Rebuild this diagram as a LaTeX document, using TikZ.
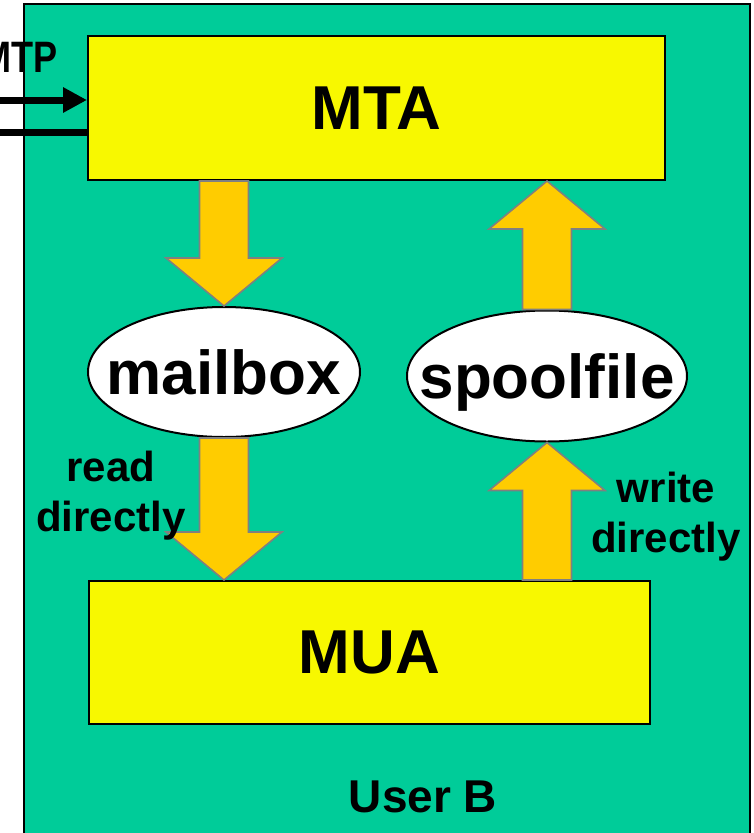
\documentclass[tikz,border=0pt]{standalone}
\usepackage{fontspec}
\setmainfont{Liberation Sans}
\usetikzlibrary{calc,shapes.geometric,arrows.meta}
\definecolor{bggreen}{RGB}{0,204,153}
\definecolor{boxyellow}{RGB}{248,248,0}
\definecolor{arrorange}{RGB}{255,204,0}
\definecolor{arrgray}{RGB}{128,128,128}
\newcommand{\fsz}[2]{\fontsize{#1}{#2}\selectfont\bfseries}
\def\shw{24.5pt}
\def\hhw{58pt}
\def\hhl{48pt}
\newcommand{\blkdown}[2]{%
  \draw[blockarrow] let \p1=(#1), \p2=(#2) in
    (\x1-\shw,\y1) -- (\x1-\shw,\y2+\hhl) -- (\x1-\hhw,\y2+\hhl) -- (\x1,\y2)
    -- (\x1+\hhw,\y2+\hhl) -- (\x1+\shw,\y2+\hhl) -- (\x1+\shw,\y1) -- cycle;}
\newcommand{\blkup}[2]{%
  \draw[blockarrow] let \p1=(#1), \p2=(#2) in
    (\x1-\shw,\y1) -- (\x1-\shw,\y2-\hhl) -- (\x1-\hhw,\y2-\hhl) -- (\x1,\y2)
    -- (\x1+\hhw,\y2-\hhl) -- (\x1+\shw,\y2-\hhl) -- (\x1+\shw,\y1) -- cycle;}
\tikzset{
  blockarrow/.style={fill=arrorange, draw=arrgray, line width=1.6pt, line join=miter},
  agentbox/.style={rectangle, draw=black, line width=2pt, fill=boxyellow, inner sep=0pt,
    font=\fsz{62}{62}},
  storeellipse/.style={ellipse, draw=black, line width=2pt, fill=white,
    inner xsep=-40pt, inner ysep=0pt,
    text height=45pt, text depth=0pt, font=\fsz{62}{62}},
  sidelabel/.style={align=center, inner sep=0pt, font=\fsz{42}{50}},
  smtpline/.style={line width=7pt},
}
\begin{document}
\begin{tikzpicture}[x=1pt,y=-1pt]
\useasboundingbox (0,0) rectangle (753,833);
\clip (0,0) rectangle (753,833);
% user area
\draw[fill=bggreen, draw=black, line width=2pt] (24,4) rectangle (750,860);
% boxes
\node[agentbox, minimum width=577pt, minimum height=144pt] (mta) at (376.5,108) {MTA};
\node[agentbox, minimum width=561pt, minimum height=143pt] (mua) at (369.5,652.5) {MUA};
\node[storeellipse, minimum width=272pt, minimum height=130pt] (mailbox) at (224,372) {mailbox};
\node[storeellipse, minimum width=280pt, minimum height=131pt] (spool) at (547,376) {spoolfile};
% block arrows
\blkdown{mailbox.north |- mta.south}{mailbox.north}
\blkdown{mailbox.south}{mailbox.south |- mua.north}
\blkup{spool.north}{spool.north |- mta.south}
\blkup{spool.south |- mua.north}{spool.south}
% labels
\node[sidelabel] (readlbl) at (111,496) {read\\directly};
\node[sidelabel] (writelbl) at (666,517) {write\\directly};
\node[anchor=base, inner sep=0pt, font=\fsz{46}{46}] (userb) at (423,812) {User B};
% SMTP lines
\coordinate (in1) at (-5,100);
\coordinate (in2) at (-5,132);
\node[anchor=base east, inner sep=0pt, font=\fsz{44}{44}, xscale=0.82, transform shape] (smtp) at (58,72) {SMTP};
\draw[smtpline, -{Triangle[length=24pt,width=24pt]}] (in1) -- (in1 -| mta.west);
\draw[smtpline] (in2) -- (in2 -| mta.west);
\end{tikzpicture}
\end{document}
